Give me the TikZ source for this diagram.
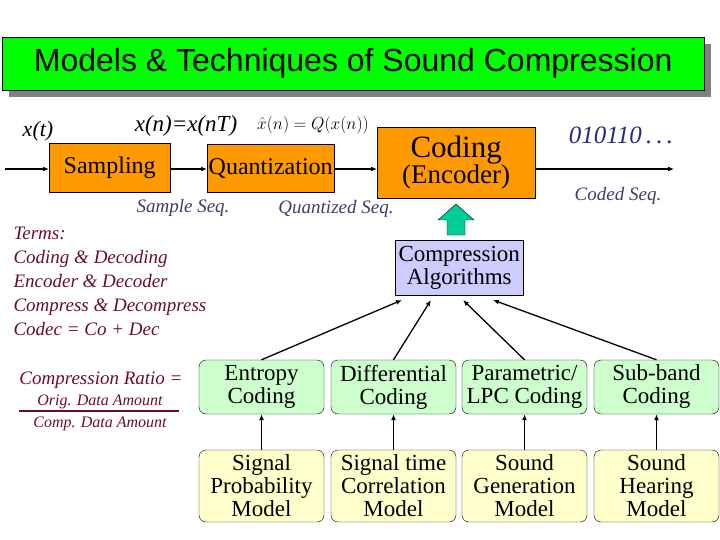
\documentclass[tikz,border=0pt]{standalone}
\usepackage{fontspec}
\setmainfont{Liberation Serif}
\newfontfamily\titlefont{Liberation Sans}
\usetikzlibrary{arrows.meta}
\definecolor{orangebox}{RGB}{255,153,0}
\definecolor{greenbox}{RGB}{204,255,204}
\definecolor{yellowbox}{RGB}{255,255,204}
\definecolor{purplebox}{RGB}{204,204,255}
\definecolor{termred}{RGB}{110,10,50}
\definecolor{seqblue}{RGB}{60,60,110}
\definecolor{codeblue}{RGB}{40,40,130}
\definecolor{blockgreen}{RGB}{0,204,153}
\begin{document}
\begin{tikzpicture}[x=1pt,y=-1pt,
  obox/.style={draw,fill=orangebox,inner sep=0pt,anchor=north west},
  rbox/.style={draw,rounded corners=7pt,minimum width=125pt,align=center,inner sep=1pt,font=\fontsize{23}{23}\selectfont},
  gbox/.style={rbox,fill=greenbox,minimum height=54pt},
  ybox/.style={rbox,fill=yellowbox,minimum height=72pt},
  arr/.style={-{Latex[length=6pt,width=5pt]},line width=1.3pt},
  seq/.style={font=\itshape\fontsize{19}{19}\selectfont,text=seqblue},
  term/.style={font=\itshape\fontsize{19}{24}\selectfont,text=termred,align=left,anchor=north west}]
\useasboundingbox (0,0) rectangle (720,540);
% title
\fill[gray] (9,44) rectangle (711,97);
\node[draw,fill=green,minimum width=702pt,minimum height=53pt,anchor=north west,inner sep=0pt] (title) at (2,37)
  {\titlefont\fontsize{32}{32}\selectfont Models \& Techniques of Sound Compression};
% chain
\node[obox,minimum width=121pt,minimum height=49pt] (samp) at (49,143) {\fontsize{24}{24}\selectfont Sampling};
\node[obox,minimum width=127pt,minimum height=48pt] (quant) at (207,144) {\fontsize{24}{24}\selectfont Quantization};
\node[obox,minimum width=158pt,minimum height=71pt,align=center] (code) at (377,127) {\fontsize{31}{35}\selectfont Coding\\\fontsize{27}{29}\selectfont(Encoder)};
\coordinate (in) at (5,169);
\coordinate (out) at (674,169);
\draw[arr] (in) -- (samp.west |- in);
\draw[arr] (samp.east |- in) -- (quant.west |- in);
\draw[arr] (quant.east |- in) -- (code.west |- in);
\draw[arr] (code.east |- in) -- (out);
\node (xt) at (38,131) {\itshape\fontsize{22}{22}\selectfont x(t)};
\node[inner sep=0pt] (xn) at (186,126) {\itshape\fontsize{23}{23}\selectfont x(n)=x(nT)};
\node[inner sep=0pt] (qx) at (313,125) {\fontsize{18}{18}\selectfont$\hat{x}(n)=Q\bigl(x(n)\bigr)$};
\node[font=\itshape\fontsize{25}{25}\selectfont,text=codeblue] (bits) at (621,135) {010110\,.\,.\,.};
\node[seq] (sseq) at (183,208) {Sample Seq.};
\node[seq] (qseq) at (336,209) {Quantized Seq.};
\node[seq] (cseq) at (618,196) {Coded Seq.};
% compression algorithms
\node[draw,fill=purplebox,minimum width=128pt,minimum height=55pt,anchor=north west,align=center,inner sep=0pt,font=\fontsize{23}{23}\selectfont] (alg) at (395,240) {Compression\\Algorithms};
\draw[fill=blockgreen] (447,235) -- (447,220) -- (438,220) -- (456,204) -- (474,220) -- (465,220) -- (465,235) -- cycle;
% terms
\node[term] (terms) at (10,224) {Terms:\\Coding \& Decoding\\Encoder \& Decoder\\Compress \& Decompress\\Codec = Co + Dec};
\node[font=\itshape\fontsize{19}{19}\selectfont,text=termred] (ratio) at (101,380) {Compression Ratio =};
\node[font=\itshape\fontsize{16}{16}\selectfont,text=termred] (orig) at (100,402) {Orig. Data Amount};
\node[font=\itshape\fontsize{16}{16}\selectfont,text=termred] (comp) at (100,424) {Comp. Data Amount};
\draw[termred,line width=1.5pt] (19,411) -- (179,411);
% boxes
\node[gbox] (ent) at (261.5,387) {Entropy\\Coding};
\node[gbox] (dif) at (393.5,387) {Differential\\Coding};
\node[gbox] (par) at (524.5,387) {Parametric/\\LPC Coding};
\node[gbox] (sub) at (656.5,387) {Sub-band\\Coding};
\node[ybox] (m1) at (261.5,486) {Signal\\Probability\\Model};
\node[ybox] (m2) at (393.5,486) {Signal time\\Correlation\\Model};
\node[ybox] (m3) at (524.5,486) {Sound\\Generation\\Model};
\node[ybox] (m4) at (656.5,486) {Sound\\Hearing\\Model};
\foreach \a/\b in {m1/ent,m2/dif,m3/par,m4/sub} \draw[arr] (\a) -- (\b);
\coordinate (t1) at (402,300); \coordinate (t2) at (431,300);
\coordinate (t3) at (463,300); \coordinate (t4) at (493,300);
\draw[arr] (ent.north) -- (t1);
\draw[arr] (dif.north) -- (t2);
\draw[arr] (par.north) -- (t3);
\draw[arr] (sub.north) -- (t4);
\end{tikzpicture}
\end{document}
